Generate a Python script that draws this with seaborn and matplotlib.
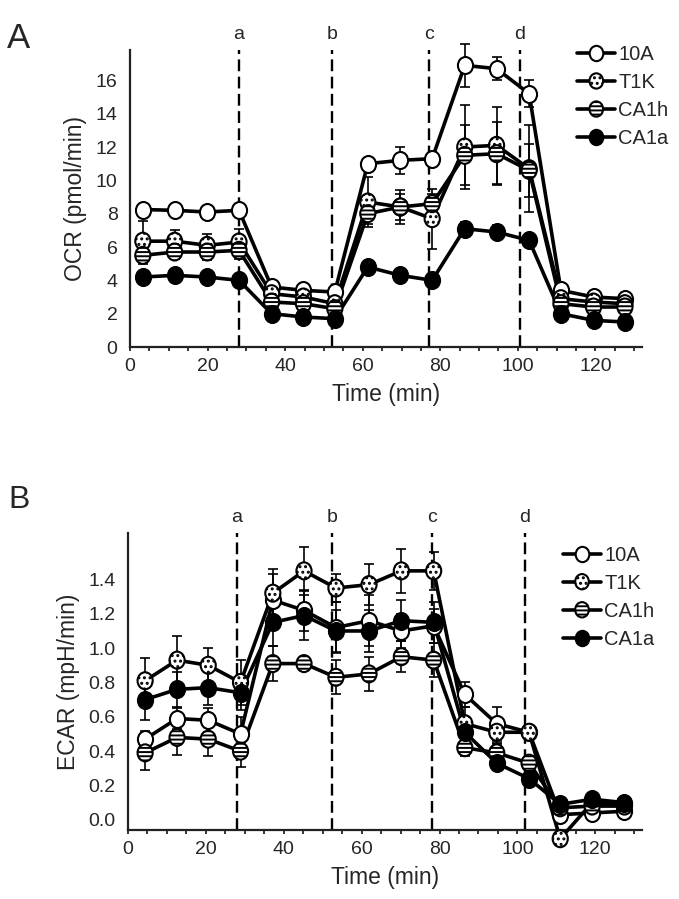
import numpy as np
import matplotlib
matplotlib.use("Agg")
import matplotlib.pyplot as plt
from matplotlib.lines import Line2D
from matplotlib.path import Path
from matplotlib.ticker import MultipleLocator
import seaborn as sns

# ---------------- data ----------------
series = ['10A', 'T1K', 'CA1h', 'CA1a']

time_a = [3.3, 11.5, 19.9, 28.1, 36.5, 44.7, 52.8, 61.3, 69.7, 77.9, 86.3, 94.5, 102.9, 111.1, 119.5, 127.6]
time_b = [4.4, 12.6, 20.6, 28.9, 37.2, 45.2, 53.4, 61.9, 70.2, 78.5, 86.5, 94.7, 103.0, 111.0, 119.2, 127.5]

inject_a = [28.1, 52.0, 77.0, 100.5]
inject_b = [27.9, 52.4, 78.2, 101.9]
inject_labels = ['a', 'b', 'c', 'd']

# OCR (pmol/min)
ocr_10a = [8.25, 8.2, 8.1, 8.2, 3.6, 3.4, 3.3, 11.0, 11.2, 11.3, 16.9, 16.7, 15.2, 3.4, 3.0, 2.9]
ocr_t1k = [6.35, 6.35, 6.1, 6.3, 3.2, 3.0, 2.6, 8.7, 8.4, 7.7, 12.0, 12.1, 10.7, 2.9, 2.7, 2.6]
ocr_ca1h = [5.5, 5.7, 5.7, 5.8, 2.7, 2.6, 2.3, 8.0, 8.4, 8.6, 11.5, 11.6, 10.6, 2.6, 2.4, 2.4]
ocr_ca1a = [4.2, 4.3, 4.2, 4.0, 2.0, 1.8, 1.7, 4.8, 4.3, 4.0, 7.1, 6.9, 6.4, 2.0, 1.6, 1.5]

ocr_err_10a = [0.3, 0.3, 0.2, 0.3, 0.2, 0.2, 0.2, 0.3, 0.8, 0.3, 1.3, 0.7, 0.8, 0.2, 0.2, 0.2]
ocr_err_t1k = [1.2, 0.7, 0.7, 0.8, 0.3, 0.3, 0.3, 1.5, 0.8, 1.8, 2.5, 2.3, 2.6, 0.3, 0.2, 0.2]
ocr_err_ca1h = [0.5, 0.4, 0.5, 0.5, 0.3, 0.3, 0.2, 0.6, 1.0, 0.6, 1.8, 1.9, 1.6, 0.2, 0.2, 0.2]
ocr_err_ca1a = [0.2, 0.2, 0.2, 0.2, 0.2, 0.2, 0.2, 0.2, 0.2, 0.2, 0.4, 0.4, 0.3, 0.2, 0.2, 0.2]

# ECAR (mpH/min)
ecar_10a = [0.47, 0.59, 0.58, 0.50, 1.28, 1.22, 1.12, 1.16, 1.10, 1.13, 0.73, 0.56, 0.51, 0.03, 0.04, 0.05]
ecar_t1k = [0.81, 0.93, 0.90, 0.80, 1.32, 1.45, 1.35, 1.37, 1.45, 1.45, 0.56, 0.51, 0.51, -0.11, 0.10, 0.09]
ecar_ca1h = [0.39, 0.48, 0.47, 0.40, 0.91, 0.91, 0.83, 0.85, 0.95, 0.93, 0.42, 0.39, 0.33, 0.07, 0.08, 0.08]
ecar_ca1a = [0.70, 0.76, 0.77, 0.74, 1.15, 1.19, 1.10, 1.10, 1.16, 1.15, 0.51, 0.33, 0.24, 0.09, 0.12, 0.10]

ecar_err_10a = [0.05, 0.06, 0.07, 0.10, 0.15, 0.12, 0.15, 0.15, 0.10, 0.10, 0.07, 0.10, 0.03, 0.02, 0.02, 0.02]
ecar_err_t1k = [0.13, 0.14, 0.10, 0.13, 0.14, 0.14, 0.08, 0.12, 0.13, 0.11, 0.10, 0.06, 0.03, 0.03, 0.03, 0.03]
ecar_err_ca1h = [0.10, 0.10, 0.10, 0.09, 0.10, 0.03, 0.10, 0.10, 0.09, 0.10, 0.05, 0.05, 0.04, 0.02, 0.02, 0.02]
ecar_err_ca1a = [0.12, 0.10, 0.10, 0.10, 0.14, 0.14, 0.12, 0.12, 0.12, 0.12, 0.05, 0.04, 0.04, 0.02, 0.02, 0.02]

# marker look per series: face colour, hatch
marker_face = {'10A': 'white', 'T1K': 'white', 'CA1h': 'white', 'CA1a': 'black'}
marker_hatch = {'10A': None, 'T1K': '...', 'CA1h': '----', 'CA1a': None}

# slightly tall circle, the original figure is a bit stretched vertically
_circ = Path.unit_circle()
tall_circle = Path(_circ.vertices * np.array([0.89, 1.0]), _circ.codes)

# ---------------- style ----------------
sns.set_theme(style="white")
plt.rcParams['font.family'] = ['Liberation Sans', 'DejaVu Sans']
plt.rcParams['hatch.linewidth'] = 1.4
plt.rcParams['axes.linewidth'] = 1.6


def draw_panel(ax, t, ys, errs, injects, ylim, yticks, yfmt, ylabel, leg_anchor, fig):
    handles = []
    for i, name in enumerate(series):
        ax.errorbar(t, ys[i], yerr=errs[i], fmt='none', ecolor='black',
                    elinewidth=1.2, capsize=3.5, capthick=1.2, zorder=2, clip_on=False)
    for i, name in enumerate(series):
        sns.lineplot(x=t, y=ys[i], ax=ax, color='black', lw=2.6, zorder=3,
                     estimator=None, sort=False, clip_on=False)
    for i, name in enumerate(series):
        sns.scatterplot(x=t, y=ys[i], ax=ax, s=150, color=marker_face[name],
                        marker=tall_circle, edgecolor='black', linewidth=1.5,
                        hatch=marker_hatch[name], zorder=4 + i, clip_on=False)
        coll = ax.collections[-1]
        handles.append((Line2D([], [], color='black', lw=2.6), coll))

    for x, lab in zip(injects, inject_labels):
        ax.axvline(x, color='black', lw=1.7, ls=(0, (5, 2.3)), zorder=1)
        ax.annotate(lab, xy=(x, 1.0), xycoords=('data', 'axes fraction'),
                    xytext=(0, 5), textcoords='offset points',
                    ha='center', va='bottom', fontsize=14)

    ax.set_xlim(0, 132)
    ax.set_ylim(*ylim)
    ax.set_yticks(yticks)
    ax.set_yticklabels([yfmt.format(v) for v in yticks])
    ax.xaxis.set_major_locator(MultipleLocator(20))
    ax.xaxis.set_minor_locator(MultipleLocator(5))
    ax.tick_params(axis='x', which='both', direction='out', length=3, width=1.3,
                   labelsize=14, pad=5, bottom=True)
    ax.tick_params(axis='y', length=0, labelsize=14, pad=9)
    sns.despine(ax=ax)
    for s in ['left', 'bottom']:
        ax.spines[s].set_color('#222222')
    ax.set_xlabel('Time (min)', fontsize=16.5, labelpad=6)
    ax.set_ylabel(ylabel, fontsize=16.5, labelpad=6)
    ax.grid(False)

    fig.legend(handles, series, loc='upper left', bbox_to_anchor=leg_anchor,
               frameon=False, fontsize=14.5, handlelength=1.9, handletextpad=0.15,
               labelspacing=0.45, borderpad=0, borderaxespad=0,
               scatterpoints=1, scatteryoffsets=[0.5], markerscale=0.9)


fig = plt.figure(figsize=(6.79, 8.99), dpi=100)
ax_a = fig.add_axes([0.1915, 0.614, 0.754, 0.330])
ax_b = fig.add_axes([0.1885, 0.077, 0.757, 0.330])

draw_panel(ax_a, time_a,
           [ocr_10a, ocr_t1k, ocr_ca1h, ocr_ca1a],
           [ocr_err_10a, ocr_err_t1k, ocr_err_ca1h, ocr_err_ca1a],
           inject_a, (0, 17.8), list(range(0, 17, 2)), '{:d}',
           'OCR (pmol/min)', (0.850, 0.950), fig)

draw_panel(ax_b, time_b,
           [ecar_10a, ecar_t1k, ecar_ca1h, ecar_ca1a],
           [ecar_err_10a, ecar_err_t1k, ecar_err_ca1h, ecar_err_ca1a],
           inject_b, (-0.058, 1.67), [round(0.2 * k, 1) for k in range(8)], '{:.1f}',
           'ECAR (mpH/min)', (0.829, 0.393), fig)

fig.text(0.010, 0.975, 'A', fontsize=25, va='top', ha='left')
fig.text(0.013, 0.461, 'B', fontsize=23, va='top', ha='left')

fig.savefig('out.png', dpi=100)
